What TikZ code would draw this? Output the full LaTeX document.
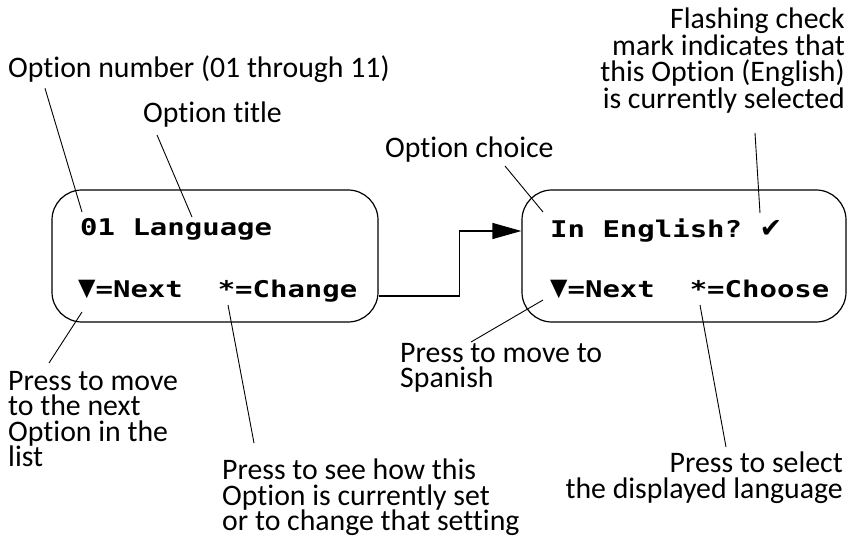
\documentclass[tikz,border=0pt]{standalone}
\usepackage{fontspec}
\setmainfont{Carlito}[Ligatures=NoCommon]
\newfontfamily\lcdfont{DejaVu Sans Mono}[FakeStretch=1.26]
\newfontfamily\dingfont{DejaVu Sans}
\usetikzlibrary{arrows.meta,positioning}
\tikzstyle{screen}=[draw,line width=1.2pt,rounded corners=30pt,minimum width=326pt,minimum height=132pt,inner sep=0pt]
\tikzstyle{lcd}=[font=\lcdfont\bfseries\fontsize{23}{23}\selectfont,inner sep=0pt,anchor=base west]
\tikzstyle{callout}=[font=\fontsize{29.8}{25.5}\selectfont,inner sep=0pt,align=left]
\tikzstyle{leader}=[line width=0.9pt]
\tikzstyle{flow}=[line width=1.2pt,-{Triangle[length=29pt,width=16pt]}]
\newcommand{\dnkey}{\scalebox{1}[1.35]{▼}}

\begin{document}
\begin{tikzpicture}[x=1pt,y=-1pt]
\useasboundingbox (0,0) rectangle (862,548);
% the two displays
\node [screen] (scr1) at (215,256) {};
\node [screen,minimum width=324pt] (scr2) at (684,256) {};
\node [lcd] (optline) at (80,236) {01 Language};
\node [lcd] (keyline) at (78,297) {\dnkey=Next\ \ *=Change};
\node [lcd] (choiceline) at (550,237) {In English?\ {\dingfont\fontsize{27}{27}\selectfont ✔}};
\node [lcd] (keyline2) at (550,297) {\dnkey=Next\ \ *=Choose};
\draw [flow] ([yshift=-40pt]scr1.east) -| ([xshift=-62pt,yshift=25pt]scr2.west) -- ([yshift=25pt]scr2.west);

% callouts
\node [callout,anchor=base west] (numtxt) at (8,78) {Option number (01 through 11)};
\node [callout,anchor=base west] (titletxt) at (143,123) {Option title};
\node [callout,anchor=base west] (choicetxt) at (385,158) {Option choice};
\node [callout,anchor=north east,align=right] (flashtxt) at (845,8) {Flashing check\\mark indicates that\\this Option (English)\\is currently selected};
\node [callout,anchor=north west] (nexttxt) at (8,371) {Press to move\\to the next\\Option in the\\list};
\node [callout,anchor=north west] (changetxt) at (222,459) {Press to see how this\\Option is currently set\\or to change that setting};
\node [callout,anchor=north west] (spanishtxt) at (400,343) {Press to move to\\Spanish};
\node [callout,anchor=north east,align=right] (selecttxt) at (843,452) {Press to select\\the displayed language};

\coordinate (numtip) at (82,212);
\coordinate (titletip) at (192,217);
\coordinate (choicetip) at (543,212);
\coordinate (checktip) at (760,213);
\coordinate (nexttip) at (82,312);
\coordinate (changetip) at (228,305);
\coordinate (spanishtip) at (543,300);
\coordinate (selecttip) at (700,305);

\draw [leader] ([shift={(37,5)}]numtxt.south west) -- (numtip);
\draw [leader] ([shift={(14,7)}]titletxt.south west) -- (titletip);
\draw [leader] ([shift={(120,3)}]choicetxt.south west) -- (choicetip);
\draw [leader] ([shift={(-90,20)}]flashtxt.south east) -- (checktip);
\draw [leader] ([shift={(41,-8)}]nexttxt.north west) -- (nexttip);
\draw [leader] ([shift={(32,-16)}]changetxt.north west) -- (changetip);
\draw [leader] ([shift={(71,-1)}]spanishtxt.north west) -- (spanishtip);
\draw [leader] ([shift={(-117,-5)}]selecttxt.north east) -- (selecttip);
\end{tikzpicture}
\end{document}
